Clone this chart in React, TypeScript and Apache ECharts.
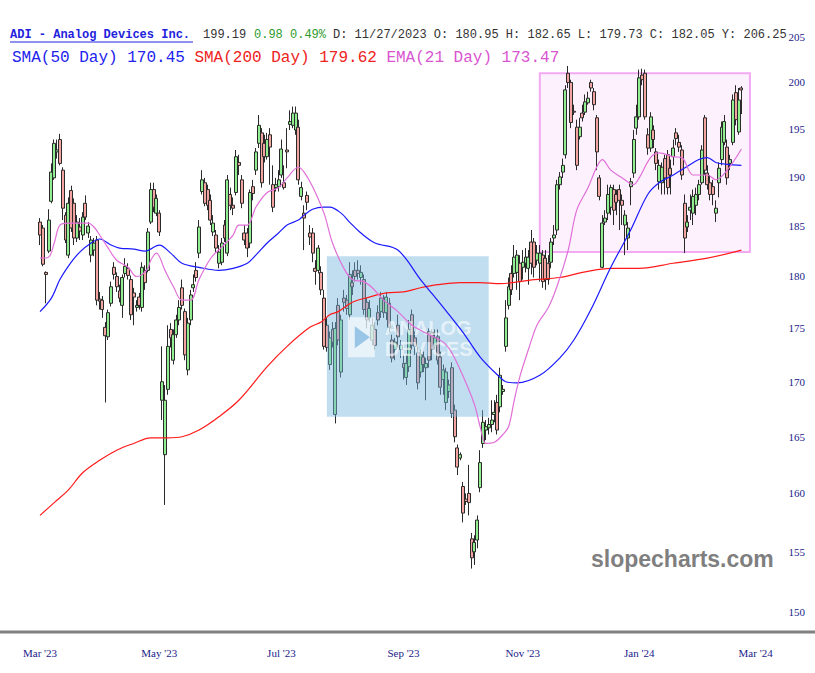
import React, { useEffect, useRef } from "react";
import * as echarts from "echarts";

// ---------- calendar / categories ----------
const FIRST_DAY = "2023-03-01";
const LAST_AXIS_DAY = "2024-03-14";
const HOLIDAYS = [
  "2023-04-07", "2023-05-29", "2023-06-19", "2023-07-04", "2023-09-04",
  "2023-11-23", "2023-12-25", "2024-01-01", "2024-01-15", "2024-02-19",
];
const MONTHS = ["Jan", "Feb", "Mar", "Apr", "May", "Jun", "Jul", "Aug", "Sep", "Oct", "Nov", "Dec"];

// ---------- price ticks ----------
const Y_TICKS = [150, 155, 160, 165, 170, 175, 180, 185, 190, 195, 200, 205];
const PRICE_MIN = 148.4;
const PRICE_MAX = 205.78;

// ---------- daily candles: [open, close, low, high] ----------
const candles: number[][] = [
  [185.4, 184.1, 183.1, 185.8], [184.8, 181.2, 181.0, 185.1], [180.4, 180.2, 177.4, 180.5], [182.5, 185.6, 182.3, 186.7],
  [187.5, 190.5, 187.3, 191.4], [189.9, 193.5, 189.7, 193.9], [192.6, 192.8, 191.9, 193.9], [193.9, 191.4, 191.2, 194.5],
  [190.7, 186.8, 185.6, 191.0], [186.1, 183.6, 183.3, 186.4], [182.1, 187.3, 181.8, 187.9], [188.6, 184.8, 184.4, 189.1],
  [187.3, 183.8, 183.1, 187.8], [183.8, 185.4, 183.4, 186.1], [184.9, 184.5, 183.6, 185.8], [184.1, 185.9, 183.6, 186.4],
  [187.3, 185.9, 185.6, 188.1], [184.3, 185.0, 183.8, 185.4], [182.1, 183.6, 181.4, 184.0], [182.6, 183.3, 182.0, 183.8],
  [183.6, 177.7, 177.2, 184.0], [177.8, 177.6, 176.8, 178.5], [177.7, 176.8, 176.0, 178.1], [175.1, 174.3, 168.1, 175.6],
  [174.2, 176.5, 173.9, 176.8],
  [177.4, 179.0, 177.1, 179.5], [180.9, 180.2, 179.7, 181.4], [180.0, 179.0, 178.5, 180.4], [178.6, 177.9, 177.5, 179.2],
  [177.2, 179.9, 176.0, 180.2], [180.3, 181.0, 179.9, 181.8], [180.8, 180.1, 179.7, 181.3], [179.7, 176.3, 175.8, 180.1],
  [178.4, 178.0, 175.3, 178.9], [177.0, 177.2, 176.6, 177.7], [178.0, 177.2, 176.8, 178.4], [177.0, 180.9, 176.6, 181.4],
  [180.6, 179.4, 178.7, 181.1], [180.6, 184.4, 180.4, 184.8], [185.4, 188.7, 185.2, 189.4], [188.7, 186.9, 186.4, 189.4],
  [186.3, 187.8, 186.0, 188.2], [186.3, 184.4, 184.0, 186.6], [168.3, 170.0, 166.5, 173.3], [163.4, 168.3, 159.0, 169.7],
  [169.3, 173.3, 168.8, 175.3], [174.9, 174.1, 173.2, 175.5], [172.0, 174.4, 171.6, 174.9], [174.4, 175.8, 174.1, 176.3],
  [175.8, 177.0, 175.3, 177.7], [178.9, 177.2, 176.8, 179.7], [176.6, 172.5, 172.0, 176.9], [171.1, 175.5, 170.6, 176.0],
  [175.8, 178.2, 175.3, 178.7], [178.9, 179.2, 178.5, 180.2], [180.6, 179.9, 179.5, 181.4], [182.3, 184.9, 181.8, 185.6],
  [188.5, 189.7, 188.2, 190.7], [189.4, 187.3, 187.0, 189.9], [188.7, 187.1, 186.6, 189.2], [187.6, 185.6, 185.1, 188.2],
  [184.4, 185.3, 184.0, 186.1], [184.1, 182.8, 182.4, 184.6], [181.3, 182.4, 180.8, 183.1], [181.4, 183.3, 181.1, 183.8],
  [185.1, 183.8, 183.4, 185.6], [182.3, 189.7, 182.0, 190.2], [188.2, 187.1, 186.6, 188.9], [187.1, 186.8, 186.1, 187.9],
  [188.4, 192.1, 188.1, 192.8], [191.5, 191.2, 190.2, 192.3], [189.7, 187.3, 186.8, 190.2], [184.3, 183.6, 183.1, 185.1],
  [184.3, 182.8, 181.9, 184.8], [183.3, 188.4, 182.8, 188.7], [189.0, 188.3, 187.6, 189.7], [190.7, 192.6, 190.2, 193.0],
  [193.5, 195.4, 193.0, 196.5], [194.6, 189.4, 188.9, 195.1], [193.5, 192.1, 191.5, 194.4], [192.1, 193.9, 191.8, 194.6],
  [194.4, 193.1, 189.2, 195.1], [189.2, 186.9, 186.4, 191.2], [188.9, 189.2, 188.5, 189.9], [189.0, 189.7, 188.5, 190.7],
  [190.2, 192.9, 189.9, 193.9], [189.4, 188.9, 188.7, 191.2], [192.8, 192.6, 190.9, 195.1], [195.5, 195.8, 194.9, 197.0],
  [195.4, 196.7, 195.1, 197.4], [194.9, 196.7, 194.4, 197.4], [195.2, 189.7, 189.2, 196.0], [188.0, 188.9, 187.6, 189.5],
  [186.3, 185.8, 182.6, 187.1], [188.1, 187.4, 186.6, 188.5], [184.3, 183.9, 183.1, 185.1], [184.3, 182.3, 181.4, 184.8],
  [180.8, 180.5, 179.2, 181.6], [180.6, 182.8, 180.3, 183.1], [180.4, 178.7, 178.2, 181.0], [177.9, 173.3, 173.0, 178.7],
  [175.3, 173.2, 172.8, 176.0], [171.6, 174.1, 171.1, 174.7], [174.9, 173.7, 173.2, 175.6], [167.0, 175.0, 166.2, 175.6],
  [177.2, 173.9, 173.4, 177.9], [170.9, 175.8, 170.4, 176.3], [177.9, 177.5, 176.6, 178.7], [177.7, 176.9, 176.3, 178.2],
  [176.3, 180.2, 175.8, 181.4], [179.4, 179.0, 178.2, 180.6], [180.6, 180.0, 179.5, 181.4], [180.6, 180.3, 179.7, 181.6],
  [179.9, 180.4, 179.2, 181.1], [179.7, 176.8, 176.3, 180.2], [177.5, 175.8, 175.0, 177.9], [176.0, 176.9, 175.6, 177.7],
  [173.9, 175.3, 173.4, 176.0], [174.9, 173.4, 173.0, 175.6], [176.5, 175.8, 175.3, 177.2], [176.6, 177.9, 176.0, 178.5],
  [177.7, 176.5, 176.0, 178.2], [176.5, 178.0, 175.8, 178.5], [177.4, 175.1, 174.7, 177.9], [173.9, 172.2, 171.8, 174.4],
  [173.0, 173.7, 172.0, 174.1], [175.3, 174.2, 173.2, 176.3], [173.0, 173.4, 172.2, 173.9], [171.7, 171.3, 170.2, 172.5],
  [170.4, 171.7, 169.7, 172.5], [171.4, 174.9, 170.9, 175.8], [176.3, 173.4, 173.0, 176.8], [174.1, 173.3, 172.5, 174.7],
  [172.7, 169.9, 169.3, 173.2], [170.9, 172.5, 170.4, 173.0], [172.3, 171.6, 170.9, 172.8], [171.3, 171.7, 168.3, 172.2],
  [174.7, 172.0, 171.3, 175.0], [174.6, 173.0, 172.0, 174.9], [173.4, 174.1, 173.0, 174.9], [174.2, 172.0, 171.6, 174.9],
  [172.3, 169.5, 168.8, 172.8], [170.2, 171.1, 168.8, 171.6], [168.1, 170.9, 167.4, 171.3], [169.1, 169.7, 168.5, 170.2],
  [171.3, 167.1, 166.7, 171.8], [167.4, 165.0, 164.5, 167.9], [164.0, 162.3, 161.6, 164.3], [163.1, 163.4, 162.9, 163.6],
  [160.6, 158.3, 157.5, 161.0], [159.5, 159.3, 159.0, 160.0], [160.0, 159.2, 158.1, 162.5], [156.1, 154.5, 153.6, 156.6],
  [155.0, 155.8, 153.9, 156.4], [156.0, 157.7, 155.3, 158.1], [160.5, 162.7, 160.1, 163.8], [164.4, 166.3, 164.0, 167.4],
  [165.6, 165.9, 164.7, 166.5], [165.8, 166.1, 165.2, 166.7], [166.1, 166.5, 165.4, 168.3], [167.0, 167.2, 166.3, 168.3],
  [168.1, 165.6, 165.2, 168.8], [167.7, 170.6, 167.2, 171.3], [169.1, 169.3, 168.8, 169.7],
  [173.3, 176.0, 172.8, 177.7], [177.2, 179.0, 176.8, 179.9], [180.3, 178.7, 178.2, 181.1], [180.3, 181.9, 179.9, 183.1],
  [180.4, 182.1, 178.7, 182.6], [181.3, 179.5, 177.7, 182.1], [180.9, 181.4, 179.7, 182.6], [181.3, 181.9, 180.4, 182.8],
  [180.8, 181.9, 179.2, 182.6], [183.4, 181.3, 180.2, 184.6], [183.4, 180.9, 179.9, 183.8], [181.6, 182.3, 181.1, 183.1],
  [181.3, 182.3, 179.5, 183.1], [182.1, 179.5, 178.9, 182.6], [181.8, 179.7, 178.7, 182.6], [181.3, 179.7, 179.2, 182.1],
  [181.4, 183.4, 180.8, 183.8], [183.8, 184.1, 183.1, 185.1], [184.6, 189.2, 184.1, 189.7], [189.2, 190.0, 188.7, 190.5],
  [190.5, 191.2, 189.9, 191.9], [192.3, 199.2, 191.9, 199.7], [201.0, 200.0, 199.4, 201.8], [200.0, 195.7, 195.1, 200.3],
  [196.9, 196.8, 196.5, 197.6], [195.2, 191.2, 190.7, 196.0], [194.2, 195.2, 193.9, 196.2], [196.7, 196.2, 195.8, 197.6],
  [196.8, 197.9, 196.5, 198.7], [197.8, 198.3, 197.6, 199.0], [200.0, 199.4, 199.0, 200.3], [199.0, 197.6, 197.0, 199.4],
  [196.2, 192.6, 190.7, 196.5], [189.9, 188.0, 187.6, 190.2], [180.9, 185.3, 180.8, 186.1], [185.4, 185.8, 185.1, 186.6],
  [186.3, 188.2, 185.6, 189.2], [186.9, 188.9, 186.1, 189.2], [188.7, 186.6, 185.1, 189.2], [188.2, 187.4, 186.1, 188.7],
  [188.7, 187.6, 184.6, 189.2], [187.6, 187.1, 185.1, 188.2], [185.1, 186.1, 182.1, 186.6], [183.8, 184.8, 182.6, 185.4],
  [189.0, 189.5, 187.1, 189.9], [190.4, 193.9, 189.9, 194.9], [195.1, 196.3, 194.4, 197.6], [196.3, 200.5, 196.0, 201.4],
  [200.8, 200.3, 199.7, 201.5], [201.0, 196.3, 196.0, 201.4], [194.4, 193.0, 192.3, 195.1], [193.0, 196.3, 192.6, 196.8],
  [194.9, 193.9, 193.0, 195.4], [192.6, 191.4, 190.7, 193.0],
  [189.5, 191.2, 188.7, 191.8], [189.4, 191.0, 188.2, 191.5], [191.9, 189.9, 188.2, 192.3], [192.3, 188.9, 188.2, 192.8],
  [190.9, 190.2, 188.2, 191.8], [192.1, 193.0, 191.2, 193.9], [194.6, 194.0, 193.3, 195.1], [193.6, 193.1, 192.6, 194.4],
  [192.8, 190.2, 189.7, 193.3], [187.3, 183.8, 182.3, 188.2], [184.9, 185.4, 184.4, 186.1], [186.6, 186.9, 185.6, 188.2],
  [186.3, 188.0, 185.1, 188.7], [187.1, 188.2, 186.1, 188.9], [188.2, 189.2, 187.6, 189.7], [189.4, 192.8, 189.2, 193.3],
  [196.2, 190.7, 190.2, 196.5], [190.4, 189.2, 188.7, 191.2], [189.4, 188.2, 187.6, 190.2], [189.0, 188.2, 187.1, 189.7],
  [186.3, 186.8, 185.4, 187.6], [189.4, 190.9, 187.9, 191.5], [191.8, 195.2, 191.2, 195.8], [193.6, 195.8, 193.3, 196.5],
  [193.1, 189.9, 189.2, 193.9], [191.4, 191.8, 190.7, 192.3], [193.6, 198.1, 193.3, 198.7], [198.9, 196.0, 195.4, 199.7],
  [194.7, 198.1, 194.4, 199.4], [199.4, 199.19, 196.6, 199.6],
];

// ---------- moving averages: [day index, value] ----------
const sma50: number[][] = [
  [0, 176.6], [4, 177.9], [7, 179.7], [11, 181.4], [14, 182.4], [18, 183.3], [21, 183.7], [25, 183.1], [28, 182.8],
  [33, 182.7], [37, 182.5], [42, 183.1], [46, 182.3], [50, 181.3], [56, 180.9], [63, 180.6], [68, 180.8], [73, 181.3],
  [76, 182.1], [80, 183.3], [84, 184.3], [87, 185.1], [91, 185.6], [93, 186.1], [96, 186.7], [100, 186.9], [102, 186.9],
  [106, 186.3], [109, 185.4], [113, 184.3], [118, 183.3], [126, 182.6], [134, 179.7], [142, 177.0], [149, 174.6],
  [155, 172.3], [162, 170.4], [164, 170.0], [168, 169.9], [176, 170.6], [183, 172.2], [188, 173.9], [194, 176.8],
  [201, 180.9], [208, 184.6], [214, 188.2], [218, 189.4], [223, 190.2], [228, 191.1], [232, 191.8], [235, 192.0],
  [238, 191.5], [242, 191.3], [247, 191.2],
];
const sma200: number[][] = [
  [0, 158.1], [5, 159.2], [10, 160.3], [15, 161.8], [21, 162.9], [27, 163.8], [33, 164.4], [39, 164.9], [45, 164.9],
  [50, 165.0], [56, 165.6], [63, 166.8], [70, 168.3], [80, 171.4], [87, 173.3], [95, 175.1], [99, 175.6], [102, 176.3],
  [105, 176.6], [110, 177.5], [116, 178.0], [122, 178.4], [128, 178.5], [134, 178.9], [140, 179.2], [148, 179.4],
  [155, 179.4], [162, 179.3], [174, 179.7], [183, 179.9], [191, 180.4], [201, 180.8], [211, 180.8], [223, 181.3],
  [235, 181.8], [247, 182.6],
];
const ema21: number[][] = [
  [0, 181.8], [3, 181.9], [5, 183.3], [7, 185.1], [10, 185.3], [13, 185.3], [17, 185.3], [19, 184.9], [21, 184.1],
  [24, 182.8], [27, 181.6], [31, 180.9], [34, 180.0], [36, 180.2], [38, 180.8], [39, 181.6], [41, 182.3], [44, 180.6],
  [47, 179.0], [50, 177.7], [53, 177.7], [56, 179.7], [59, 181.3], [61, 182.1], [64, 182.9], [68, 184.1], [70, 185.1],
  [73, 185.1], [76, 186.9], [80, 188.4], [84, 188.9], [87, 189.9], [91, 191.0], [93, 190.5], [96, 189.0], [100, 186.3],
  [103, 183.3], [107, 180.8], [110, 179.7], [114, 179.5], [117, 178.9], [121, 177.7], [126, 176.6], [131, 175.3],
  [137, 174.4], [142, 173.7], [145, 172.7], [149, 170.5], [153, 167.9], [155, 165.9], [157, 164.4], [160, 164.5],
  [163, 165.2], [165, 165.9], [167, 168.3], [169, 170.5], [172, 173.0], [175, 175.3], [179, 177.0], [182, 179.0],
  [186, 182.6], [189, 186.6], [193, 188.9], [196, 191.0], [198, 191.8], [201, 190.7], [205, 189.9], [209, 189.2],
  [211, 189.9], [215, 192.0], [218, 192.5], [223, 192.1], [226, 192.0], [230, 190.2], [235, 190.2], [238, 189.7],
  [242, 190.7], [247, 192.9],
];

// ---------- annotation boxes: [startDay, topPrice, endDay, bottomPrice] ----------
const pinkBox = [176, 201.0, 250, 182.4];
const blueBox = [101, 182.0, 158, 166.8];

// ---------- header texts ----------
const TITLE = "ADI - Analog Devices Inc.";
const LAST = "199.19";
const CHANGE = "0.98 0.49%";
const QUOTE = "D: 11/27/2023 O: 180.95 H: 182.65 L: 179.73 C: 182.05 Y: 206.25";
const MA_TEXTS = ["SMA(50 Day) 170.45", "SMA(200 Day) 179.62", "EMA(21 Day) 173.47"];
const LOGO_TEXT = "ANALOG\nDEVICES";
const WATERMARK = "slopecharts.com";

function tradingDays(start: string, end: string, holidays: string[]) {
  const out: string[] = [];
  const d = new Date(start + "T00:00:00Z");
  const e = new Date(end + "T00:00:00Z");
  while (d <= e) {
    const wd = d.getUTCDay();
    const s = d.toISOString().slice(0, 10);
    if (wd !== 0 && wd !== 6 && holidays.indexOf(s) < 0) out.push(s);
    d.setUTCDate(d.getUTCDate() + 1);
  }
  return out;
}

export default function App() {
  const ref = useRef<HTMLDivElement>(null);

  useEffect(() => {
    if (!ref.current) return;
    const chart = echarts.init(ref.current, undefined, { renderer: "svg" });
    const L = (v: number) => Math.log(v);
    const dates = tradingDays(FIRST_DAY, LAST_AXIS_DAY, HOLIDAYS);
    const month = (i: number) => +dates[i].slice(5, 7);
    const isLabelDay = (i: number) => {
      const m = month(i);
      const prev = i > 0 ? month(i - 1) : -1;
      return m !== prev && m % 2 === 1;
    };
    const mono = "'Liberation Mono', 'DejaVu Sans Mono', monospace";
    const serif = "'Liberation Serif', 'DejaVu Serif', serif";
    const navy = "#1a1a8a";

    const maLine = (name: string, pts: number[][], color: string) => ({
      name,
      type: "line",
      data: pts.map((p) => [p[0], L(p[1])]),
      smooth: 0.35,
      symbol: "none",
      z: 4,
      silent: true,
      lineStyle: { color, width: 1.2 },
    });

    const boxSeries = (box: number[], z: number, withLogo: boolean) => ({
      type: "custom",
      z,
      silent: true,
      data: [[box[0], L(box[1]), box[2], L(box[3])]],
      encode: { x: [0, 2], y: [1, 3] },
      renderItem: (params: any, api: any) => {
        const p0 = api.coord([api.value(0), api.value(1)]);
        const p1 = api.coord([api.value(2), api.value(3)]);
        const w = p1[0] - p0[0];
        const h = p1[1] - p0[1];
        if (!withLogo) {
          return {
            type: "rect",
            shape: { x: p0[0], y: p0[1], width: w, height: h },
            style: { fill: "rgba(250,205,250,0.28)", stroke: "#f2aaf2", lineWidth: 2 },
          };
        }
        const white = "rgba(255,255,255,0.62)";
        const ix = p0[0] + 21;
        const iy = p0[1] + 61;
        return {
          type: "group",
          children: [
            { type: "rect", shape: { x: p0[0], y: p0[1], width: w, height: h }, style: { fill: "rgba(120,180,222,0.46)" } },
            { type: "rect", shape: { x: ix, y: iy, width: 27, height: 40 }, style: { fill: white } },
            { type: "polygon", shape: { points: [[ix + 7, iy + 9], [ix + 7, iy + 31], [ix + 22, iy + 20]] }, style: { fill: "rgba(120,180,222,0.7)" } },
            {
              type: "text",
              x: ix + 37,
              y: iy,
              style: { text: LOGO_TEXT, fill: white, font: "bold 20px 'Liberation Sans', Arial, sans-serif", lineHeight: 21 },
            },
          ],
        };
      },
    });

    const cw2 = 9.6;
    const option: any = {
      animation: false,
      backgroundColor: "#ffffff",
      grid: { left: 38.6, right: 32.4, top: 30, bottom: 41, containLabel: false },
      xAxis: {
        type: "category",
        data: dates,
        boundaryGap: true,
        axisLine: { show: false },
        axisTick: { show: false },
        splitLine: { show: false },
        axisLabel: {
          interval: (i: number) => isLabelDay(i),
          formatter: (v: string) => `${MONTHS[+v.slice(5, 7) - 1]} '${v.slice(2, 4)}`,
          color: navy,
          fontFamily: serif,
          fontSize: 11,
          margin: 15,
        },
      },
      yAxis: {
        type: "value",
        position: "right",
        min: L(PRICE_MIN),
        max: L(PRICE_MAX),
        axisLine: { show: false },
        axisTick: { show: false },
        splitLine: { show: false },
        axisLabel: {
          customValues: Y_TICKS.map(L),
          formatter: (v: number) => String(Math.round(Math.exp(v))),
          color: navy,
          fontFamily: serif,
          fontSize: 11,
          margin: 6,
        },
      },
      series: [
        boxSeries(pinkBox, 1, false),
        {
          type: "candlestick",
          z: 2,
          silent: true,
          barWidth: 3.5,
          data: candles.map((c) => c.map(L)),
          itemStyle: {
            color: "#90ee90",
            color0: "#f2a5a0",
            borderColor: "#2a2a2a",
            borderColor0: "#2a2a2a",
            borderWidth: 1,
          },
        },
        boxSeries(blueBox, 3, true),
        maLine("SMA200", sma200, "#ff1a1a"),
        maLine("SMA50", sma50, "#1a1aff"),
        maLine("EMA21", ema21, "#e070d8"),
      ],
      graphic: [
        { type: "line", shape: { x1: 0, y1: 632, x2: 815, y2: 632 }, style: { stroke: "#808080", lineWidth: 3 }, z: 10 },
        { type: "text", x: 10, y: 35, style: { text: TITLE, fill: "#2222dd", font: `bold 12px ${mono}`, verticalAlign: "middle" }, z: 10 },
        { type: "line", shape: { x1: 10, y1: 42, x2: 193, y2: 42 }, style: { stroke: "#2222dd", lineWidth: 1 }, z: 10 },
        { type: "text", x: 203, y: 35, style: { text: LAST, fill: "#333333", font: `12px ${mono}`, verticalAlign: "middle" }, z: 10 },
        { type: "text", x: 254, y: 35, style: { text: CHANGE, fill: "#2e9a2e", font: `12px ${mono}`, verticalAlign: "middle" }, z: 10 },
        { type: "text", x: 333, y: 35, style: { text: QUOTE, fill: "#333333", font: `12px ${mono}`, verticalAlign: "middle" }, z: 10 },
        { type: "text", x: 12, y: 58, style: { text: MA_TEXTS[0], fill: "#2222ee", font: `16px ${mono}`, verticalAlign: "middle" }, z: 10 },
        { type: "text", x: 12 + 19 * cw2, y: 58, style: { text: MA_TEXTS[1], fill: "#ee2222", font: `16px ${mono}`, verticalAlign: "middle" }, z: 10 },
        { type: "text", x: 12 + 39 * cw2, y: 58, style: { text: MA_TEXTS[2], fill: "#d955d0", font: `16px ${mono}`, verticalAlign: "middle" }, z: 10 },
        { type: "text", x: 591, y: 559, style: { text: WATERMARK, fill: "#7f7f7f", font: "bold 23px 'Liberation Sans', Arial, sans-serif", verticalAlign: "middle" }, z: 10 },
      ],
    };
    chart.setOption(option);
    return () => chart.dispose();
  }, []);

  return (
    <div
      ref={ref}
      style={{ position: "absolute", left: 0, top: 0, width: 815, height: 673, background: "#fff" }}
    />
  );
}
